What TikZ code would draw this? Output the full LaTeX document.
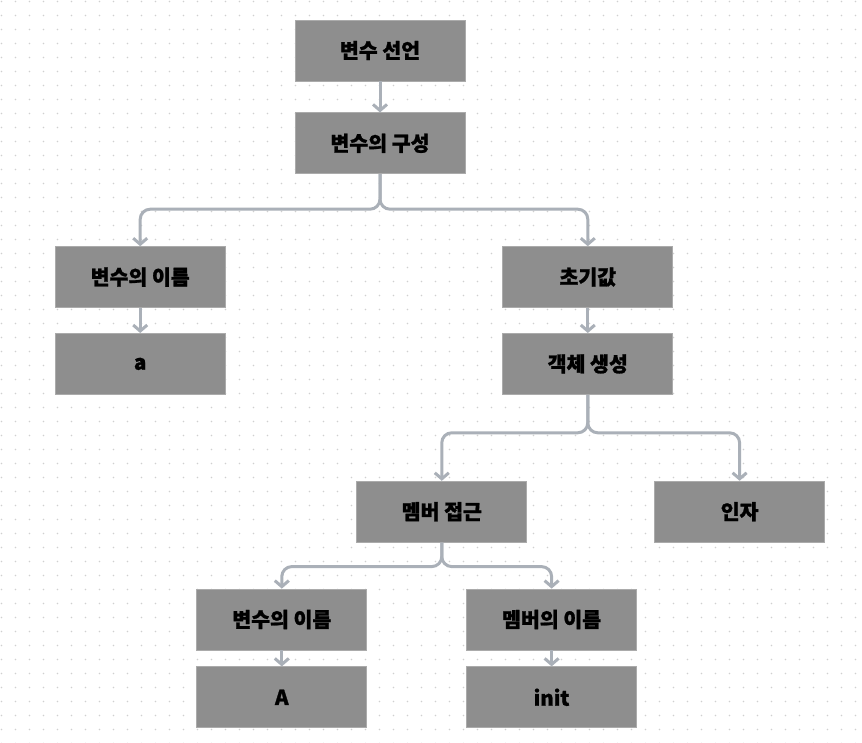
\documentclass[tikz,border=0pt]{standalone}
\usepackage{fontspec}
\setmainfont{Noto Sans CJK KR}[BoldFeatures={FakeBold=1.2}]
\usepackage{tikz}
\usetikzlibrary{positioning,arrows.meta}
\definecolor{boxgray}{HTML}{8E8E8E}
\definecolor{boxline}{HTML}{ABABAB}
\definecolor{linkgray}{HTML}{AAB0B8}
\definecolor{dotgray}{HTML}{D0D0D0}

\begin{document}
\begin{tikzpicture}[
    box/.style={draw=boxline, line width=0.8pt, fill=boxgray, minimum width=170pt, minimum height=61pt, inner sep=0pt, align=center, font=\fontsize{20.5}{24}\selectfont\bfseries},
    link/.style={-{Straight Barb[length=6pt, width=14pt]}, draw=linkgray, line width=3pt},
    split/.style={link, rounded corners=10pt}
]
% Background dots
\useasboundingbox (0,0) rectangle (862pt,-743pt);
\fill[white] (0,0) rectangle (862pt,-743pt);
\foreach \i in {0,...,61} {
    \foreach \j in {0,...,53} {
        \fill[dotgray] (1.5pt+\i*14pt, -1.5pt-\j*14pt) circle (0.8pt);
    }
}

% Declaration
\node[box] (decl) at (380pt,-50.5pt) {변수 선언};
\node[box, below=31pt of decl] (compose) {변수의 구성};

% Name and initial value
\node[box, below left=72pt and 69pt of compose] (name) {변수의 이름};
\node[box, below=25pt of name] (nameval) {a};
\node[box, below right=72pt and 37pt of compose] (initval) {초기값};
\node[box, below=25pt of initval] (create) {객체 생성};

% Object creation
\node[box, below=86pt of create, xshift=-146pt] (access) {멤버 접근};
\node[box, right=127pt of access] (arg) {인자};

% Member access
\node[box, below=46pt of access, xshift=-160pt] (varname) {변수의 이름};
\node[box, below=16pt of varname] (varval) {A};
\node[box, right=99pt of varname] (memname) {멤버의 이름};
\node[box, below=16pt of memname] (memval) {init};

% Arrows
\draw[link] (decl) -- (compose);
\draw[split] (compose.south) -- ++(0,-35pt) -| (name.north);
\draw[split] (compose.south) -- ++(0,-35pt) -| (initval.north);
\draw[link] (name) -- (nameval);
\draw[link] (initval) -- (create);
\draw[split] (create.south) -- ++(0,-38pt) -| (access.north);
\draw[split] (create.south) -- ++(0,-38pt) -| (arg.north);
\draw[split] (access.south) -- ++(0,-24pt) -| (varname.north);
\draw[split] (access.south) -- ++(0,-24pt) -| (memname.north);
\draw[link] (varname) -- (varval);
\draw[link] (memname) -- (memval);
\end{tikzpicture}
\end{document}
